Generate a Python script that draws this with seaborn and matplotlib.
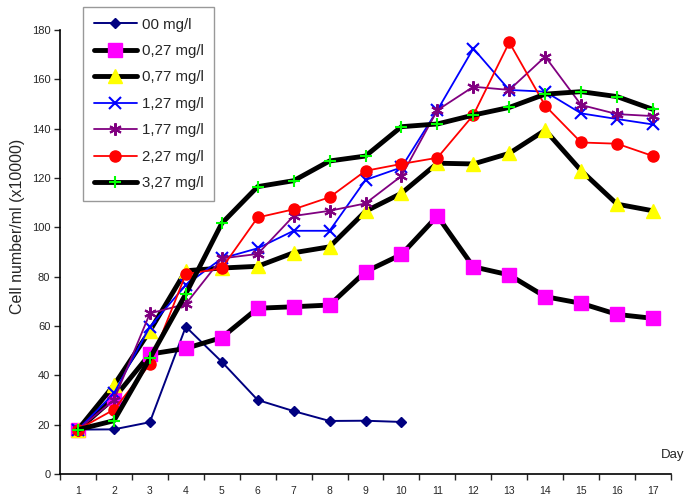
import numpy as np
import pandas as pd
import matplotlib
matplotlib.use("Agg")
import matplotlib.pyplot as plt
import seaborn as sns

# data
days = list(range(1, 18))
c00 = [18, 18.1, 21, 59.7, 45.5, 30, 25.5, 21.5, 21.6, 21.1]
c027 = [18, 30.7, 48.6, 50.9, 55.3, 67.2, 67.8, 68.5, 82, 89, 104.6, 84, 80.7, 71.9, 69.2, 64.7, 63.1]
c077 = [18, 36, 58, 82.4, 83.5, 84.2, 89.7, 92.1, 106.5, 113.8, 126, 125.7, 130, 139.4, 123, 109.4, 106.7]
c127 = [18, 32.7, 59.7, 76.6, 87.4, 91.5, 98.6, 98.6, 119.2, 124.3, 147.5, 172.5, 155.7, 155, 146.2, 143.9, 141.7]
c177 = [18, 30, 65.1, 68.9, 87.4, 89.2, 104.6, 106.7, 109.7, 120.8, 147.5, 157, 155.7, 169.2, 149.6, 145.9, 145.1]
c227 = [18, 26.1, 44.5, 81, 83.4, 104, 107.3, 112.2, 122.9, 125.7, 128.2, 145.5, 175, 149.3, 134.4, 133.9, 128.9]
c327 = [18, 21.6, 46.9, 73, 101.6, 116.5, 118.9, 126.9, 128.9, 140.8, 141.9, 145.5, 148.6, 154, 155, 153, 147.8]
labels = ["00 mg/l", "0,27 mg/l", "0,77 mg/l", "1,27 mg/l", "1,77 mg/l", "2,27 mg/l", "3,27 mg/l"]

series = [c00, c027, c077, c127, c177, c227, c327]
frames = []
for lab, vals in zip(labels, series):
    frames.append(pd.DataFrame({"Day": days[:len(vals)], "cells": vals, "conc": lab}))
df = pd.concat(frames, ignore_index=True)

sns.set_theme(style="white")
plt.rcParams["font.family"] = ["Liberation Sans", "DejaVu Sans"]

# line / marker styles per series
styles = {
    "00 mg/l":   dict(color="#000080", lw=1.4, marker="D", ms=5.5, mfc="#000080", mec="#000080"),
    "0,27 mg/l": dict(color="black", lw=3.5, marker="s", ms=10, mfc="#ff00ff", mec="#ff00ff"),
    "0,77 mg/l": dict(color="black", lw=3.5, marker="^", ms=10, mfc="#ffff00", mec="#ffff00"),
    "1,27 mg/l": dict(color="#0000ff", lw=1.3, marker="x", ms=8, mfc="#0000ff", mec="#0000ff", mew=1.5),
    "1,77 mg/l": dict(color="#800080", lw=1.3, marker=(6, 2, 0), ms=9, mfc="#800080", mec="#800080", mew=1.5),
    "2,27 mg/l": dict(color="#ff0000", lw=1.3, marker="o", ms=8, mfc="#ff0000", mec="#ff0000"),
    "3,27 mg/l": dict(color="black", lw=3.5, marker="+", ms=9, mfc="#00ff00", mec="#00ff00", mew=1.5),
}

fig = plt.figure(figsize=(6.89, 4.99), dpi=100)
ax = fig.add_axes([60 / 689, 25 / 499, 611 / 689, 444 / 499])

handles = []
for lab in labels:
    s = styles[lab]
    sub = df[df["conc"] == lab]
    sns.lineplot(data=sub, x="Day", y="cells", ax=ax, color=s["color"], linewidth=s["lw"],
                 marker=s["marker"], markersize=s["ms"], markerfacecolor=s["mfc"],
                 markeredgecolor=s["mec"], markeredgewidth=s.get("mew", 1), legend=False)
    handles.append(ax.lines[-1])

ax.set_xlim(0.5, 17.5)
ax.set_ylim(0, 180)
ax.set_xticks(days)
ax.set_xticklabels([str(d) for d in days], fontsize=7.5)
ax.set_xticks(np.arange(0.5, 18, 1), minor=True)
ax.tick_params(axis="x", which="major", length=0, pad=9)
ax.tick_params(axis="x", which="minor", length=4, width=1, direction="out", bottom=True)
ax.set_yticks(range(0, 181, 20))
ax.tick_params(axis="y", which="major", length=4, width=1, direction="out", left=True, labelsize=8, pad=3)

for side in ["top", "right"]:
    ax.spines[side].set_visible(False)
for side in ["left", "bottom"]:
    ax.spines[side].set_color("black")
    ax.spines[side].set_linewidth(1.2)

ax.set_xlabel("")
ax.set_ylabel("Cell number/ml (x10000)", fontsize=11.5)
ax.yaxis.set_label_coords(-0.058, 0.557)
fig.text(661 / 689, 1 - 455 / 499, "Day", fontsize=9.5, ha="left", va="center")

leg = fig.legend(handles, labels, loc="upper left", bbox_to_anchor=(83 / 689, 1 - 7 / 499),
                 frameon=True, fancybox=False, fontsize=10.8, handlelength=2.9,
                 labelspacing=0.83, borderpad=0.7, handletextpad=0.3, borderaxespad=0)
leg.get_frame().set_edgecolor("#808080")
leg.get_frame().set_linewidth(1)

fig.savefig("out.png", dpi=100)
